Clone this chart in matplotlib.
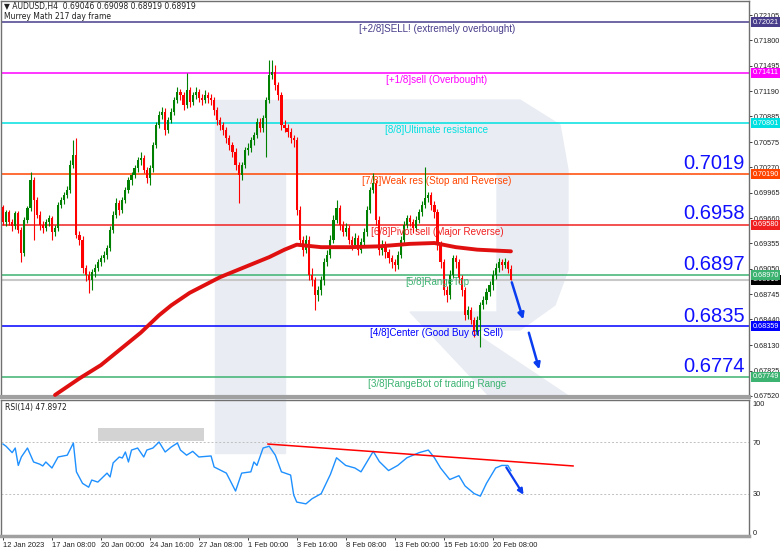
import matplotlib
matplotlib.use('Agg')
import matplotlib.pyplot as plt
from matplotlib.patches import Rectangle, Polygon

# AUDUSD H4 candles (bar index 0 = 12 Jan 2023)
opens = [0.6979, 0.6961, 0.6973, 0.6961, 0.6956, 0.6972, 0.6952, 0.6924, 0.6964, 0.6978,
         0.7012, 0.6988, 0.6970, 0.6958, 0.6954, 0.6961, 0.6966, 0.6949, 0.6954, 0.6982,
         0.6988, 0.6994, 0.7000, 0.7030, 0.7042, 0.6946, 0.6940, 0.6906, 0.6898, 0.6891,
         0.6901, 0.6906, 0.6913, 0.6918, 0.6922, 0.6930, 0.6952, 0.6970, 0.6984, 0.6976,
         0.6988, 0.7000, 0.7012, 0.7018, 0.7026, 0.7036, 0.7038, 0.7024, 0.7014, 0.7026,
         0.7054, 0.7078, 0.7090, 0.7094, 0.7072, 0.7084, 0.7094, 0.7108, 0.7118, 0.7114,
         0.7102, 0.7120, 0.7106, 0.7114, 0.7118, 0.7111, 0.7108, 0.7114, 0.7111, 0.7108,
         0.7096, 0.7084, 0.7078, 0.7072, 0.7062, 0.7054, 0.7046, 0.7030, 0.7018, 0.7030,
         0.7048, 0.7050, 0.7060, 0.7066, 0.7082, 0.7075, 0.7087, 0.7108, 0.7138, 0.7142,
         0.7126, 0.7114, 0.7078, 0.7075, 0.7070, 0.7062, 0.7060, 0.6976, 0.6940, 0.6928,
         0.6940, 0.6898, 0.6891, 0.6873, 0.6879, 0.6891, 0.6913, 0.6922, 0.6940, 0.6964,
         0.6978, 0.6958, 0.6949, 0.6954, 0.6940, 0.6934, 0.6942, 0.6928, 0.6937, 0.6949,
         0.6976, 0.7000, 0.7008, 0.6964, 0.6928, 0.6934, 0.6925, 0.6918, 0.6913, 0.6910,
         0.6922, 0.6940, 0.6958, 0.6966, 0.6961, 0.6954, 0.6964, 0.6973, 0.6982, 0.6990,
         0.6994, 0.6982, 0.6973, 0.6934, 0.6913, 0.6879, 0.6873, 0.6898, 0.6918, 0.6913,
         0.6894, 0.6879, 0.6849, 0.6855, 0.6843, 0.6829, 0.6843, 0.6861, 0.6867, 0.6877,
         0.6885, 0.6898, 0.6906, 0.6913, 0.6910, 0.6913, 0.69046]
highs = [0.6982, 0.6976, 0.6976, 0.6965, 0.6975, 0.6975, 0.6955, 0.6967, 0.6981, 0.7021,
         0.7016, 0.6992, 0.6974, 0.6962, 0.6965, 0.6970, 0.6969, 0.6958, 0.6985, 0.6992,
         0.6998, 0.7005, 0.7036, 0.7060, 0.7062, 0.6950, 0.6944, 0.6910, 0.6902, 0.6905,
         0.6911, 0.6917, 0.6922, 0.6926, 0.6934, 0.6956, 0.6974, 0.6990, 0.6988, 0.6992,
         0.7004, 0.7016, 0.7022, 0.7030, 0.7040, 0.7045, 0.7042, 0.7028, 0.7030, 0.7058,
         0.7082, 0.7095, 0.7100, 0.7098, 0.7088, 0.7098, 0.7112, 0.7124, 0.7122, 0.7118,
         0.7141, 0.7124, 0.7118, 0.7124, 0.7122, 0.7116, 0.7120, 0.7118, 0.7115, 0.7112,
         0.7100, 0.7088, 0.7082, 0.7076, 0.7066, 0.7058, 0.7050, 0.7034, 0.7034, 0.7052,
         0.7056, 0.7064, 0.7070, 0.7086, 0.7086, 0.7090, 0.7112, 0.7156, 0.7156, 0.7150,
         0.7130, 0.7118, 0.7084, 0.7079, 0.7074, 0.7066, 0.7064, 0.6980, 0.6944, 0.6946,
         0.6944, 0.6906, 0.6895, 0.6884, 0.6896, 0.6918, 0.6927, 0.6946, 0.6970, 0.6988,
         0.6982, 0.6962, 0.6960, 0.6958, 0.6944, 0.6948, 0.6946, 0.6942, 0.6954, 0.6980,
         0.7004, 0.7020, 0.7012, 0.6968, 0.6940, 0.6938, 0.6929, 0.6922, 0.6917, 0.6926,
         0.6945, 0.6962, 0.6970, 0.6970, 0.6965, 0.6968, 0.6977, 0.6986, 0.7028, 0.6998,
         0.6998, 0.6986, 0.6977, 0.6938, 0.6917, 0.6884, 0.6903, 0.6922, 0.6922, 0.6917,
         0.6898, 0.6883, 0.6860, 0.6859, 0.6847, 0.6848, 0.6865, 0.6872, 0.6882, 0.6890,
         0.6903, 0.6912, 0.6918, 0.6917, 0.6918, 0.6916, 0.69098]
lows = [0.6958, 0.6957, 0.6958, 0.6950, 0.6953, 0.6948, 0.6913, 0.6920, 0.6960, 0.6975,
        0.6940, 0.6966, 0.6952, 0.6948, 0.6950, 0.6957, 0.6940, 0.6944, 0.6950, 0.6978,
        0.6983, 0.6990, 0.6996, 0.7026, 0.6942, 0.6934, 0.6900, 0.6890, 0.6876, 0.6880,
        0.6895, 0.6902, 0.6908, 0.6913, 0.6917, 0.6926, 0.6948, 0.6966, 0.6970, 0.6972,
        0.6984, 0.6996, 0.7006, 0.7014, 0.7022, 0.7030, 0.7020, 0.7008, 0.7006, 0.7022,
        0.7050, 0.7074, 0.7085, 0.7066, 0.7068, 0.7080, 0.7090, 0.7104, 0.7108, 0.7096,
        0.7098, 0.7100, 0.7102, 0.7110, 0.7106, 0.7102, 0.7104, 0.7105, 0.7102, 0.7090,
        0.7078, 0.7072, 0.7066, 0.7056, 0.7048, 0.7040, 0.7024, 0.6984, 0.7012, 0.7026,
        0.7042, 0.7046, 0.7054, 0.7062, 0.7070, 0.7070, 0.7040, 0.7104, 0.7134, 0.7120,
        0.7108, 0.7072, 0.7070, 0.7064, 0.7056, 0.7052, 0.6970, 0.6934, 0.6920, 0.6924,
        0.6892, 0.6884, 0.6855, 0.6866, 0.6874, 0.6886, 0.6908, 0.6918, 0.6936, 0.6960,
        0.6952, 0.6944, 0.6945, 0.6935, 0.6928, 0.6930, 0.6922, 0.6924, 0.6932, 0.6944,
        0.6972, 0.6996, 0.6958, 0.6922, 0.6922, 0.6918, 0.6912, 0.6906, 0.6902, 0.6905,
        0.6918, 0.6936, 0.6954, 0.6956, 0.6948, 0.6950, 0.6960, 0.6968, 0.6978, 0.6985,
        0.6976, 0.6966, 0.6928, 0.6906, 0.6873, 0.6865, 0.6868, 0.6894, 0.6906, 0.6888,
        0.6872, 0.6843, 0.6844, 0.6838, 0.6823, 0.6825, 0.6811, 0.6856, 0.6862, 0.6872,
        0.6880, 0.6893, 0.6901, 0.6904, 0.6906, 0.6900, 0.68919]
closes = [0.6961, 0.6973, 0.6961, 0.6956, 0.6972, 0.6952, 0.6924, 0.6964, 0.6978, 0.7012,
          0.6988, 0.6970, 0.6958, 0.6954, 0.6961, 0.6966, 0.6949, 0.6954, 0.6982, 0.6988,
          0.6994, 0.7000, 0.7030, 0.7042, 0.6946, 0.6940, 0.6906, 0.6898, 0.6891, 0.6901,
          0.6906, 0.6913, 0.6918, 0.6922, 0.6930, 0.6952, 0.6970, 0.6984, 0.6976, 0.6988,
          0.7000, 0.7012, 0.7018, 0.7026, 0.7036, 0.7038, 0.7024, 0.7014, 0.7026, 0.7054,
          0.7078, 0.7090, 0.7094, 0.7072, 0.7084, 0.7094, 0.7108, 0.7118, 0.7114, 0.7102,
          0.7120, 0.7106, 0.7114, 0.7118, 0.7111, 0.7108, 0.7114, 0.7111, 0.7108, 0.7096,
          0.7084, 0.7078, 0.7072, 0.7062, 0.7054, 0.7046, 0.7030, 0.7018, 0.7030, 0.7048,
          0.7050, 0.7060, 0.7066, 0.7082, 0.7075, 0.7087, 0.7108, 0.7138, 0.7142, 0.7126,
          0.7114, 0.7078, 0.7075, 0.7070, 0.7062, 0.7060, 0.6976, 0.6940, 0.6928, 0.6940,
          0.6898, 0.6891, 0.6873, 0.6879, 0.6891, 0.6913, 0.6922, 0.6940, 0.6964, 0.6978,
          0.6958, 0.6949, 0.6954, 0.6940, 0.6934, 0.6942, 0.6928, 0.6937, 0.6949, 0.6976,
          0.7000, 0.7008, 0.6964, 0.6928, 0.6934, 0.6925, 0.6918, 0.6913, 0.6910, 0.6922,
          0.6940, 0.6958, 0.6966, 0.6961, 0.6954, 0.6964, 0.6973, 0.6982, 0.6990, 0.6994,
          0.6982, 0.6973, 0.6934, 0.6913, 0.6879, 0.6873, 0.6898, 0.6918, 0.6913, 0.6894,
          0.6879, 0.6849, 0.6855, 0.6843, 0.6829, 0.6843, 0.6861, 0.6867, 0.6877, 0.6885,
          0.6898, 0.6906, 0.6913, 0.6910, 0.6913, 0.6905, 0.68919]

# 217 period moving average (read at a few bars)
sma_idx = [17, 25, 32, 38, 45, 51, 55, 61, 71, 81, 87, 92, 96, 104, 113, 123, 133, 141, 148, 155, 166]
sma_vals = [0.6753, 0.6773, 0.6789, 0.6807, 0.6828, 0.6849, 0.6861, 0.6876, 0.6895, 0.6910, 0.6919,
            0.6928, 0.6934, 0.6931, 0.6931, 0.6932, 0.6935, 0.6936, 0.6931, 0.6928, 0.6926]

# RSI(14)
rsi_idx = [0, 1, 3, 4, 5, 6, 8, 10, 12, 13, 14, 16, 18, 21, 23, 24, 26, 28, 29, 31,
           34, 35, 36, 38, 39, 40, 41, 42, 44, 46, 47, 49, 51, 53, 55, 57, 58, 60, 62, 64,
           68, 69, 73, 76, 78, 81, 82, 83, 85, 87, 89, 91, 94, 95, 96, 99, 101, 104, 107, 109,
           112, 115, 117, 121, 123, 126, 129, 132, 136, 139, 141, 143, 146, 149, 151, 154, 156, 158, 161, 163,
           165, 166]
rsi_vals = [68.7, 67, 62, 65.6, 52, 58.6, 65.6, 54.7, 53, 51.6, 54.7, 50, 58.6, 60, 69.5, 47, 38, 35, 40.6, 39,
            46, 43, 54, 58.6, 57.8, 62.5, 54.7, 64, 65.6, 58.6, 64, 65.6, 70.3, 62.5, 66.4, 69.5, 64, 60, 63, 58.6,
            59.4, 50.8, 46, 32, 46, 47, 54.7, 52, 65.6, 67, 60, 47, 44.5, 29, 23.4, 22, 26, 30, 45, 58,
            52, 50, 47, 63, 55, 48, 52, 58, 62, 64, 58, 50, 41, 44, 36, 30, 28, 38, 50, 52,
            52, 47.9]

x_tick_pos = [0, 16, 32, 48, 64, 80, 96, 112, 128, 144, 160]
x_tick_labels = ['12 Jan 2023', '17 Jan 08:00', '20 Jan 00:00', '24 Jan 16:00', '27 Jan 08:00',
                 '1 Feb 00:00', '3 Feb 16:00', '8 Feb 08:00', '13 Feb 00:00', '15 Feb 16:00',
                 '20 Feb 08:00']
price_ticks = [0.72105, 0.71800, 0.71495, 0.71190, 0.70885, 0.70575, 0.70270, 0.69965,
               0.69660, 0.69355, 0.69050, 0.68745, 0.68440, 0.68130, 0.67825, 0.67520]

# Murrey Math levels
levels = [0.72021, 0.71411, 0.70801, 0.70190, 0.69580, 0.68970, 0.68359, 0.67749]
level_names = ['[+2/8]SELL! (extremely overbought)', '[+1/8]sell (Overbought)',
               '[8/8]Ultimate resistance', '[7/8]Weak res (Stop and Reverse)',
               '[6/8]Pivot sell (Major Reverse)', '[5/8]RangeTop',
               '[4/8]Center (Good Buy or Sell)', '[3/8]RangeBot of trading Range']
level_colors = ['#483d8b', '#ff00ff', '#00e0e0', '#ff4500', '#f02020', '#3cb371', '#0000ff', '#3cb371']
big_levels = [0.7019, 0.6958, 0.6897, 0.6835, 0.6774]
last_price = 0.68919

W, H = 782, 553
FONT = 'Liberation Sans'
fig = plt.figure(figsize=(W / 100, H / 100), dpi=100)


def fx(x):
    return x / W


def fy(y):
    return 1 - y / H


# watermark logo behind both panels
wm = '#e9edf3'
fig.patches.append(Rectangle((fx(215), fy(453)), fx(70), 353 / H, transform=fig.transFigure,
                             color=wm, zorder=-5))
bowl = [(285, 100), (520, 100), (560, 125), (568, 170), (568, 270), (555, 305), (520, 330),
        (470, 330), (570, 397), (490, 397), (410, 312), (497, 312), (497, 172), (285, 172)]
fig.patches.append(Polygon([(fx(a), fy(b)) for a, b in bowl], closed=True, transform=fig.transFigure,
                           color=wm, zorder=-5))

ax = fig.add_axes([fx(1), fy(397), fx(748), 396 / H])
ax2 = fig.add_axes([fx(1), fy(536), fx(748), 136 / H], sharex=ax)
for a in (ax, ax2):
    a.set_facecolor('none')
    for s in a.spines.values():
        s.set_color('#707070')
        s.set_linewidth(1)
ax.spines['bottom'].set_color('#a0a0a0')
ax.spines['bottom'].set_linewidth(3)
ax2.spines['bottom'].set_color('#a0a0a0')
ax2.spines['bottom'].set_linewidth(2.5)

# candles
for i in range(len(closes)):
    col = '#008000' if closes[i] >= opens[i] else '#ff0000'
    ax.vlines(i, lows[i], highs[i], color=col, lw=0.8, zorder=3)
    ax.bar(i, abs(closes[i] - opens[i]) or 0.00003, bottom=min(opens[i], closes[i]),
           width=0.7, color=col, zorder=3, linewidth=0)

ax.plot(sma_idx, sma_vals, color='#e01010', lw=2.8, zorder=4, solid_capstyle='round')

ax.axhline(last_price, color='#c8c8c8', lw=1.5, zorder=1)
ax.annotate(f'{last_price:.5f}', xy=(1.0, last_price), xycoords=('axes fraction', 'data'),
            xytext=(2.5, 0), textcoords='offset points', ha='left', va='center',
            fontsize=5.2, color='white', family=FONT,
            bbox=dict(boxstyle='square,pad=0.2', fc='black', ec='none'), zorder=5, annotation_clip=False)
for lv, name, c in zip(levels, level_names, level_colors):
    ax.axhline(lv, color=c, lw=1.1, zorder=2)
    ax.annotate(name, (141.8, lv), xytext=(0, -1.5), textcoords='offset points',
                ha='center', va='top', fontsize=7.1, color=c, family=FONT, zorder=5)
    ax.annotate(f'{lv:.5f}', xy=(1.0, lv), xycoords=('axes fraction', 'data'),
                xytext=(2.5, 0), textcoords='offset points', ha='left', va='center',
                fontsize=5.2, color='white', family=FONT,
                bbox=dict(boxstyle='square,pad=0.2', fc=c, ec='none'), zorder=6, annotation_clip=False)

for bl in big_levels:
    ax.annotate(f'{bl:.4f}', (242.5, bl), xytext=(0, 1), textcoords='offset points',
                ha='right', va='bottom', fontsize=14.5, color='#1010ff', family=FONT, zorder=5)

# forecast arrows
ax.annotate('', xy=(170.3, 0.68409), xytext=(166, 0.68919),
            arrowprops=dict(arrowstyle='-|>', color='#0a3cf0', lw=1.8, mutation_scale=9), zorder=6)
ax.annotate('', xy=(175.5, 0.67807), xytext=(171.6, 0.68312),
            arrowprops=dict(arrowstyle='-|>', color='#0a3cf0', lw=1.8, mutation_scale=9), zorder=6)

ax.set_xlim(-0.65, 243.8)
ax.set_ylim(0.67506, 0.72274)
ax.yaxis.tick_right()
ax.set_yticks(price_ticks)
ax.set_yticklabels([f'{p:.5f}' for p in price_ticks], family=FONT)
ax.tick_params(axis='y', labelsize=5.2, length=2.5, width=0.6, pad=1.2, colors='#202020')
ax.tick_params(axis='x', bottom=False, labelbottom=False)

ax.text(0.004, 0.998, '\u25bc AUDUSD,H4  0.69046 0.69098 0.68919 0.68919', transform=ax.transAxes,
        fontsize=5.5, va='top', ha='left', color='#202020')
ax.text(0.004, 0.972, 'Murrey Math 217 day frame', transform=ax.transAxes,
        fontsize=5.5, va='top', ha='left', color='#202020')

# RSI panel
ax2.add_patch(Rectangle((31, 71), 34.7, 10.2, color='#d3d3d3', lw=0, zorder=1))
ax2.axhline(70, color='#c0c0c0', lw=0.7, ls=(0, (2, 2)), zorder=1)
ax2.axhline(30, color='#c0c0c0', lw=0.7, ls=(0, (2, 2)), zorder=1)
ax2.plot(rsi_idx, rsi_vals, color='#1e90ff', lw=1.0, zorder=3)
ax2.plot([86.6, 186.3], [68.7, 51.6], color='#ff0000', lw=1.1, zorder=4)
ax2.annotate('', xy=(170.6, 27.3), xytext=(164, 52.3),
             arrowprops=dict(arrowstyle='-|>', color='#0a3cf0', lw=1.6, mutation_scale=8), zorder=6)
ax2.set_ylim(-3.1, 103.1)
ax2.yaxis.tick_right()
ax2.set_yticks([0, 30, 70, 100])
ax2.set_yticklabels(['0', '30', '70', '100'], family=FONT)
ax2.tick_params(axis='y', labelsize=5.3, length=0, pad=2.5, colors='#202020')
ax2.set_xticks(x_tick_pos)
ax2.set_xticklabels(x_tick_labels, ha='left', family=FONT)
ax2.tick_params(axis='x', labelsize=5.4, length=3, width=0.6, pad=1.5, colors='#202020')
ax2.text(0.006, 0.975, 'RSI(14) 47.8972', transform=ax2.transAxes, fontsize=5.5,
         va='top', ha='left', color='#202020')

fig.savefig('out.png', dpi=100)
